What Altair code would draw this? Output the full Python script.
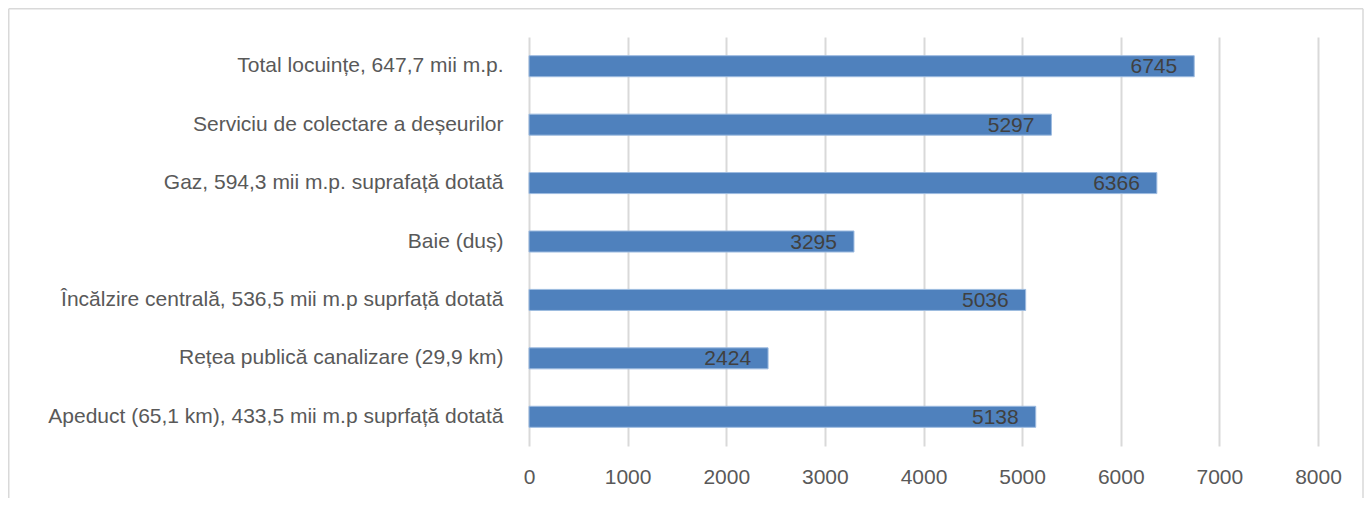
import altair as alt
import pandas as pd

categories = [
    "Total locuințe, 647,7 mii m.p.",
    "Serviciu de colectare a deșeurilor",
    "Gaz, 594,3 mii m.p. suprafață dotată",
    "Baie (duș)",
    "Încălzire centrală, 536,5 mii m.p suprfață dotată",
    "Rețea publică canalizare (29,9 km)",
    "Apeduct (65,1 km), 433,5 mii m.p suprfață dotată",
]
values = [6745, 5297, 6366, 3295, 5036, 2424, 5138]
x_ticks = [0, 1000, 2000, 3000, 4000, 5000, 6000, 7000, 8000]

df = pd.DataFrame({"cat": categories, "val": values})
FONT = "Liberation Sans"

y_enc = alt.Y("cat:N", sort=categories, title=None,
              scale=alt.Scale(paddingInner=0.64, paddingOuter=0.32),
              axis=alt.Axis(labelFontSize=21, labelColor="#595959", labelFont=FONT,
                            ticks=False, domain=False, labelPadding=26, labelLimit=700))
x_enc = alt.X("val:Q", title=None, scale=alt.Scale(domain=[0, 8000], nice=False),
              axis=alt.Axis(values=x_ticks, format="d", labelFontSize=21, labelColor="#595959",
                            labelFont=FONT, ticks=False, domain=False, labelPadding=20,
                            labelFlush=False, labelBound=False,
                            grid=True, gridColor="#d9d9d9", gridWidth=2))

bars = alt.Chart(df).mark_bar(color="#4F81BD", stroke="#9dbbe0", strokeWidth=1).encode(x=x_enc, y=y_enc)
labels = alt.Chart(df).mark_text(align="right", baseline="middle", dx=-17, dy=1,
                                 fontSize=21, color="#404040", font=FONT).encode(
    x="val:Q", y=alt.Y("cat:N", sort=categories), text="val:Q")

one = pd.DataFrame({"a": [0]})
frame_style = dict(color="#d9d9d9", strokeWidth=1.5)
left = alt.Chart(one).mark_rule(**frame_style).encode(
    x=alt.value(-520.25), y=alt.value(-28.25), y2=alt.value(470))
top = alt.Chart(one).mark_rule(**frame_style).encode(
    x=alt.value(-520.25), x2=alt.value(834), y=alt.value(-28.25))
right = alt.Chart(one).mark_rule(**frame_style).encode(
    x=alt.value(834), y=alt.value(-28.25), y2=alt.value(470))

chart = alt.layer(bars, labels, left, top, right).properties(
    width=789, height=409,
    background="white",
    autosize=alt.AutoSizeParams(type="none"),
    padding={"left": 521, "top": 29, "right": 46, "bottom": 52},
).configure_view(strokeWidth=0, stroke="transparent")

chart.save("out.html", embed_options={"renderer": "svg", "actions": False})
